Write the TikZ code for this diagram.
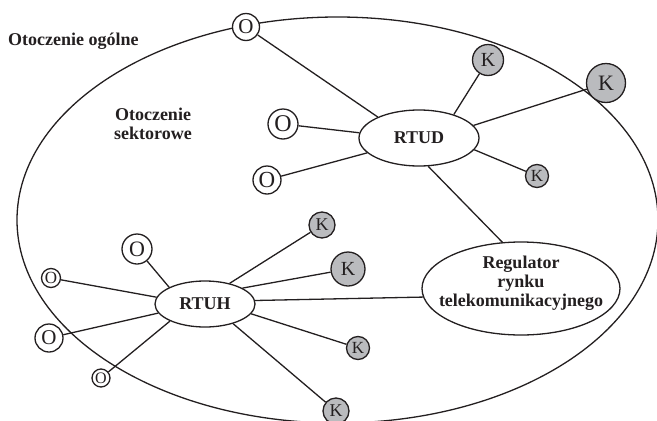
\documentclass[tikz,border=0pt]{standalone}
\usepackage{fontspec}
\setmainfont{Liberation Serif}
\usetikzlibrary{shapes.geometric}
\definecolor{ink}{RGB}{35,31,32}
\definecolor{kfill}{RGB}{186,187,190}
\newcommand\pxfont[1]{\fontsize{#1}{#1}\selectfont}

\begin{document}
\begin{tikzpicture}[x=1pt,y=-1pt,
  conn/.style={draw=ink, line width=1.3pt},
  onode/.style={circle, draw=ink, fill=white, line width=1.3pt, inner sep=0pt, text=ink},
  knode/.style={circle, draw=ink, fill=kfill, line width=1.3pt, inner sep=0pt, text=ink},
  hub/.style={ellipse, draw=ink, fill=white, line width=1.3pt, inner sep=0pt, text=ink,
              font=\pxfont{18}\bfseries},
  heading/.style={text=ink, inner sep=0pt, font=\pxfont{18}\bfseries},
  twoline/.style={font=\fontsize{18}{19}\selectfont\bfseries}]

\useasboundingbox (0,0) rectangle (657,421);
\clip (0,0) rectangle (657,421);

% outer environment
\draw[conn] (337.5,220) ellipse [x radius=320.5, y radius=203];

% labels of the two environments
\node[heading, anchor=base west] (general) at (8,45) {Otoczenie ogólne};
\node[heading, align=center, twoline] (sector) at (153,124)
  {Otoczenie\\sektorowe};

% central actors
\node[hub, minimum width=120, minimum height=56] (rtud) at (419,138) {RTUD};
\node[hub, minimum width=100, minimum height=46] (rtuh) at (205,304) {RTUH};
\node[hub, minimum width=198, minimum height=93] (reg) at (521,288.5) {};
\node[heading, align=center, twoline] (regtext) at (521,283.5)
  {Regulator\\rynku\\telekomunikacyjnego};

% O nodes
\node[onode, minimum size=27, font=\pxfont{21}] (o1) at (246,27)  {O};
\node[onode, minimum size=30, font=\pxfont{24}] (o2) at (283,124) {O};
\node[onode, minimum size=28, font=\pxfont{23}] (o3) at (267,180) {O};
\node[onode, minimum size=30, font=\pxfont{22}] (o4) at (137,249) {O};
\node[onode, minimum size=19, font=\pxfont{17}] (o5) at (51,278)  {O};
\node[onode, minimum size=28, font=\pxfont{21}] (o6) at (49,338)  {O};
\node[onode, minimum size=18, font=\pxfont{16}] (o7) at (101,378) {O};

% K nodes
\node[knode, minimum size=31, font=\pxfont{20}] (k1) at (488,60)  {K};
\node[knode, minimum size=39, font=\pxfont{22}] (k2) at (606,83)  {K};
\node[knode, minimum size=23, font=\pxfont{17}] (k3) at (537,176) {K};
\node[knode, minimum size=26, font=\pxfont{18}] (k4) at (322,225) {K};
\node[knode, minimum size=34, font=\pxfont{20}] (k5) at (348,269) {K};
\node[knode, minimum size=23, font=\pxfont{17}] (k6) at (358,348) {K};
\node[knode, minimum size=26, font=\pxfont{18}] (k7) at (336,411) {K};

% links of RTUD
\draw[conn] (rtud.153) -- (o1);
\draw[conn] (rtud.175) -- (o2);
\draw[conn] (rtud.196) -- (o3);
\draw[conn] (rtud.34)  -- (k1);
\draw[conn] (rtud.13)  -- (k2);
\draw[conn] (rtud.-12) -- (k3);
\draw[conn] (rtud.-72) -- (reg.112);

% links of RTUH
\draw[conn] (rtuh.4)   -- (reg.185);
\draw[conn] (rtuh.155) -- (o4);
\draw[conn] (rtuh.172) -- (o5);
\draw[conn] (rtuh.191) -- (o6);
\draw[conn] (rtuh.206) -- (o7);
\draw[conn] (rtuh.40)  -- (k4);
\draw[conn] (rtuh.23)  -- (k5);
\draw[conn] (rtuh.-12) -- (k6);
\draw[conn] (rtuh.-35) -- (k7);
\end{tikzpicture}
\end{document}
